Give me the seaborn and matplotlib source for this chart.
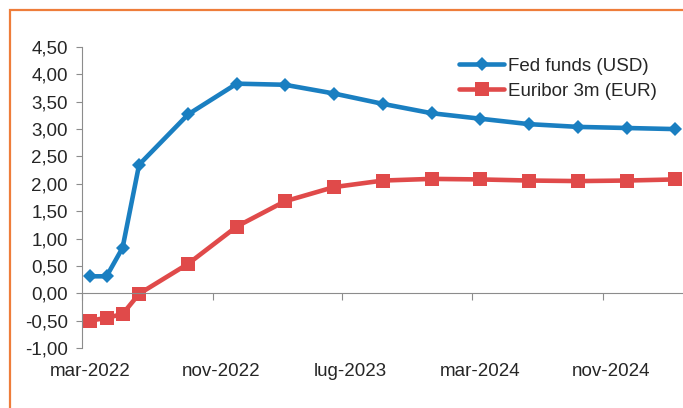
import pandas as pd
import matplotlib
matplotlib.use("Agg")
import matplotlib.pyplot as plt
import matplotlib.dates as mdates
from matplotlib.patches import Rectangle
from matplotlib.ticker import FixedLocator, FuncFormatter
import seaborn as sns

# Data
months = ["2022-03", "2022-04", "2022-05", "2022-06", "2022-09", "2022-12",
          "2023-03", "2023-06", "2023-09", "2023-12", "2024-03", "2024-06",
          "2024-09", "2024-12", "2025-03"]
fed_funds = [0.31, 0.31, 0.83, 2.35, 3.27, 3.83, 3.81, 3.65, 3.46, 3.29,
             3.19, 3.09, 3.04, 3.02, 3.00]
euribor = [-0.50, -0.45, -0.38, -0.01, 0.54, 1.22, 1.68, 1.94, 2.06, 2.09,
           2.08, 2.06, 2.05, 2.06, 2.08]
series_names = ["Fed funds (USD)", "Euribor 3m (EUR)"]
tick_months = ["2022-03", "2022-11", "2023-07", "2024-03", "2024-11"]
tick_labels = ["mar-2022", "nov-2022", "lug-2023", "mar-2024", "nov-2024"]
y_ticks = [-1.0, -0.5, 0.0, 0.5, 1.0, 1.5, 2.0, 2.5, 3.0, 3.5, 4.0, 4.5]

dates = pd.to_datetime(months) + pd.Timedelta(days=15)
df = pd.DataFrame({
    "date": list(dates) * 2,
    "value": fed_funds + euribor,
    "serie": [series_names[0]] * len(months) + [series_names[1]] * len(months),
})

sns.set_style("white")
plt.rcParams["font.family"] = ["Liberation Sans", "DejaVu Sans"]

fig = plt.figure(figsize=(6.83, 4.08), dpi=100)
ax = fig.add_axes([82 / 683, 1 - 348 / 408, 1 - 82 / 683, (348 - 47) / 408])

palette = {series_names[0]: "#1a7fc1", series_names[1]: "#e04a4a"}
markers = {series_names[0]: "D", series_names[1]: "s"}
sns.lineplot(data=df, x="date", y="value", hue="serie", style="serie",
             palette=palette, markers=markers, dashes=False, linewidth=3.3,
             markersize=10, markeredgewidth=0, ax=ax, clip_on=False)

# diamonds a bit smaller than squares
for line in ax.get_lines():
    if line.get_marker() == "D":
        line.set_markersize(7.2)

ax.set_xlim(pd.Timestamp("2022-03-01"), pd.Timestamp("2025-03-31"))
ax.set_ylim(-1.0, 4.5)
ax.set_xlabel("")
ax.set_ylabel("")

grey = "#8c8c8c"
for s in ["right", "bottom"]:
    ax.spines[s].set_visible(False)
ax.spines["left"].set_color(grey)
ax.spines["top"].set_color(grey)
ax.spines["top"].set_position(("data", 0))

# y axis
ax.set_yticks(y_ticks)
ax.yaxis.set_major_formatter(FuncFormatter(lambda v, p: f"{v:.2f}".replace(".", ",")))
ax.tick_params(axis="y", direction="out", length=4, color=grey, labelsize=13.5,
               pad=6, left=True)

# x axis: tick marks on the zero line, labels at the bottom
tick_pos = mdates.date2num(pd.to_datetime(tick_months))
label_pos = mdates.date2num(pd.to_datetime(tick_months) + pd.Timedelta(days=15))
ax.xaxis.set_major_locator(FixedLocator(tick_pos))
ax.xaxis.set_minor_locator(FixedLocator(label_pos))
ax.xaxis.set_major_formatter(FuncFormatter(lambda v, p: ""))
ax.xaxis.set_minor_formatter(FuncFormatter(
    lambda v, p: tick_labels[p] if p is not None and p < len(tick_labels) else ""))
ax.tick_params(axis="x", which="major", top=True, bottom=False, direction="in",
               length=5, color=grey, labeltop=False, labelbottom=False)
ax.tick_params(axis="x", which="minor", top=False, bottom=False, length=0,
               labelbottom=True, labelsize=13.5, pad=11)

leg = ax.legend(loc="upper right", bbox_to_anchor=(0.985, 1.02), frameon=False,
                fontsize=13.5, handlelength=2.4, handletextpad=0.2,
                labelspacing=0.4)

# orange frame around the chart (cropped at right and bottom)
fig.patches.append(Rectangle((10 / 683, -0.1), 1.2, 1.1 - 10 / 408,
                             transform=fig.transFigure, fill=False,
                             edgecolor="#ee7d3a", linewidth=1.6))

fig.savefig("out.png", dpi=100)
